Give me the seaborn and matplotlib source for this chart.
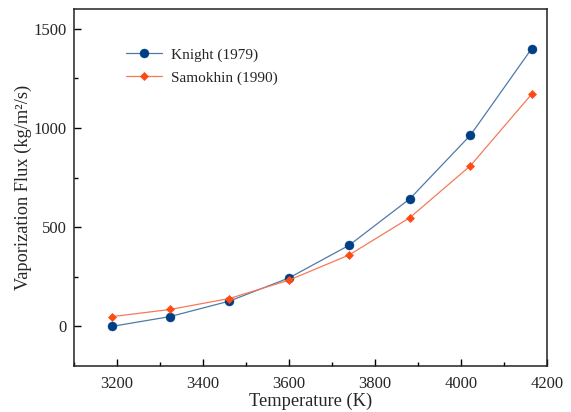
import matplotlib
matplotlib.use("Agg")
import matplotlib.pyplot as plt
import seaborn as sns
import pandas as pd
from matplotlib.ticker import MultipleLocator

temperature = [3189, 3323, 3461, 3600, 3740, 3881, 4022, 4164]
knight = [0, 49, 127, 244, 409, 643, 964, 1399]
samokhin = [49, 85, 140, 233, 360, 548, 810, 1170]

sns.set_theme(style="ticks")
plt.rcParams['font.family'] = ['Liberation Serif', 'DejaVu Serif']

fig = plt.figure(figsize=(5.71, 4.12), dpi=100)
ax = fig.add_axes([74/571, 46/412, 473/571, 357/412])

df_k = pd.DataFrame({"T": temperature, "F": knight})
df_s = pd.DataFrame({"T": temperature, "F": samokhin})

sns.lineplot(data=df_k, x="T", y="F", ax=ax, color="#4f7aa8", linewidth=0.9,
             marker="o", markersize=6.5, markerfacecolor="#003f86",
             markeredgecolor="#003f86", markeredgewidth=0.3, label="Knight (1979)")
sns.lineplot(data=df_s, x="T", y="F", ax=ax, color="#f47a5a", linewidth=0.9,
             marker="D", markersize=4.2, markerfacecolor="#ff4a12",
             markeredgecolor="#ff4a12", markeredgewidth=0.5, label="Samokhin (1990)")

ax.set_xlim(3100, 4200)
ax.set_ylim(-200, 1600)
ax.xaxis.set_major_locator(MultipleLocator(200))
ax.xaxis.set_minor_locator(MultipleLocator(100))
ax.yaxis.set_major_locator(MultipleLocator(500))
ax.yaxis.set_minor_locator(MultipleLocator(250))
ax.tick_params(which="both", direction="in", labelsize=12, color="black", width=1.0)
ax.tick_params(axis="x", pad=7)
ax.tick_params(axis="y", pad=5)
ax.tick_params(which="major", length=5)
ax.tick_params(which="minor", length=3)
for s in ax.spines.values():
    s.set_color("#222222")
    s.set_linewidth(1.1)

ax.set_xlabel("Temperature (K)", fontsize=13.2, labelpad=1)
ax.set_ylabel("Vaporization Flux (kg/m²/s)", fontsize=13.2, labelpad=1)

leg = ax.legend(loc="upper left", bbox_to_anchor=(0.08, 0.93), frameon=False,
                fontsize=11, handlelength=2.4, handletextpad=0.6, labelspacing=0.6)

fig.savefig("out.png", dpi=100)
